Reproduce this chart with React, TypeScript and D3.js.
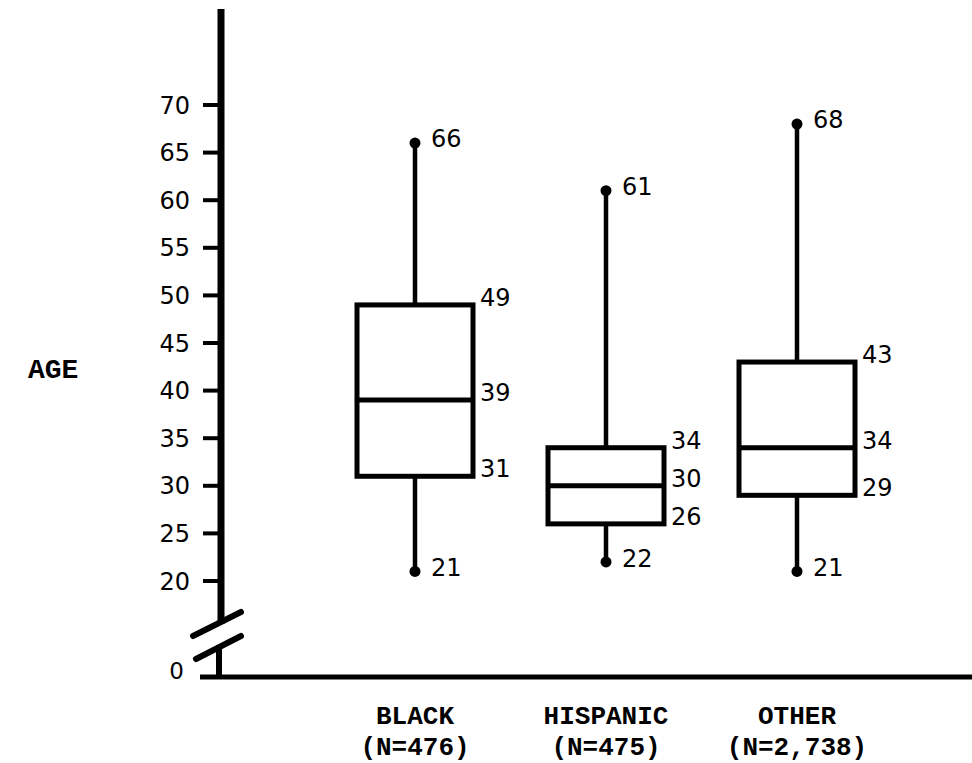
import React from 'react';
import * as d3 from 'd3';

const categories = ['BLACK', 'HISPANIC', 'OTHER'];
const sampleSizes = ['(N=476)', '(N=475)', '(N=2,738)'];
const minValues = [21, 22, 21];
const q1Values = [31, 26, 29];
const medianValues = [39, 30, 34];
const q3Values = [49, 34, 43];
const maxValues = [66, 61, 68];
const yTicks = [20, 25, 30, 35, 40, 45, 50, 55, 60, 65, 70];
const yAxisTitle = 'AGE';
const breakLabel = '0';

const W = 972;
const H = 763;
const AXIS_X = 221;
const X_AXIS_Y = 677;
const BOX_W = 116;
const numFont = '"DejaVu Sans", sans-serif';
const monoFont = '"Liberation Mono", "DejaVu Sans Mono", monospace';

export default function App() {
  const x = d3.scalePoint<string>().domain(categories).range([415, 797]);
  const y = d3.scaleLinear().domain([20, 70]).range([581, 105]);

  const data = categories.map((c, i) => ({
    cat: c,
    n: sampleSizes[i],
    min: minValues[i],
    q1: q1Values[i],
    med: medianValues[i],
    q3: q3Values[i],
    max: maxValues[i],
  }));

  return (
    <svg
      width={W}
      height={H}
      viewBox={`0 0 ${W} ${H}`}
      style={{ position: 'absolute', left: 0, top: 0, background: '#fff' }}
    >
      <rect x={0} y={0} width={W} height={H} fill="#fff" />
      {/* Y axis upper segment */}
      <line x1={AXIS_X} x2={AXIS_X} y1={9} y2={624} stroke="#000" strokeWidth={7} />
      {/* break slashes */}
      <line x1={193} y1={636} x2={241} y2={612} stroke="#000" strokeWidth={6} strokeLinecap="round" />
      <line x1={196} y1={659} x2={241} y2={636} stroke="#000" strokeWidth={6} strokeLinecap="round" />
      {/* lower segment */}
      <line x1={AXIS_X - 2} x2={AXIS_X - 2} y1={645} y2={X_AXIS_Y} stroke="#000" strokeWidth={6} />
      {/* X axis */}
      <line x1={200} x2={W} y1={X_AXIS_Y} y2={X_AXIS_Y} stroke="#000" strokeWidth={5} />
      <text x={184} y={X_AXIS_Y + 2} textAnchor="end" fontFamily={numFont} fontSize={23} fill="#000">
        {breakLabel}
      </text>

      {/* ticks */}
      {yTicks.map((t) => (
        <g key={t}>
          <line x1={203} x2={AXIS_X} y1={y(t)} y2={y(t)} stroke="#000" strokeWidth={4} />
          <text
            x={190}
            y={y(t)}
            dy="0.36em"
            textAnchor="end"
            fontFamily={numFont}
            fontSize={24}
            fill="#000"
          >
            {t}
          </text>
        </g>
      ))}

      <text x={28} y={378} fontFamily={monoFont} fontSize={28} fontWeight="bold" fill="#000">
        {yAxisTitle}
      </text>

      {/* boxes */}
      {data.map((d) => {
        const cx = x(d.cat) as number;
        const left = cx - BOX_W / 2;
        const right = cx + BOX_W / 2;
        return (
          <g key={d.cat}>
            <line x1={cx} x2={cx} y1={y(d.max)} y2={y(d.q3)} stroke="#000" strokeWidth={4.5} />
            <line x1={cx} x2={cx} y1={y(d.q1)} y2={y(d.min)} stroke="#000" strokeWidth={4.5} />
            <rect
              x={left}
              y={y(d.q3)}
              width={BOX_W}
              height={y(d.q1) - y(d.q3)}
              fill="none"
              stroke="#000"
              strokeWidth={5}
            />
            <line x1={left} x2={right} y1={y(d.med)} y2={y(d.med)} stroke="#000" strokeWidth={5} />
            <circle cx={cx} cy={y(d.max)} r={5.5} fill="#000" />
            <circle cx={cx} cy={y(d.min)} r={5.5} fill="#000" />
            {/* value labels */}
            <text x={cx + 16} y={y(d.max) + 4} fontFamily={numFont} fontSize={24} fill="#000">
              {d.max}
            </text>
            <text x={cx + 16} y={y(d.min) + 5} fontFamily={numFont} fontSize={24} fill="#000">
              {d.min}
            </text>
            {[d.q3, d.med, d.q1].map((v, k) => (
              <text key={k} x={right + 7} y={y(v) + 1} fontFamily={numFont} fontSize={24} fill="#000">
                {v}
              </text>
            ))}
            {/* category labels */}
            <text x={cx} y={724} textAnchor="middle" fontFamily={monoFont} fontSize={26} fontWeight="bold" fill="#000">
              {d.cat}
            </text>
            <text x={cx} y={755} textAnchor="middle" fontFamily={monoFont} fontSize={26} fontWeight="bold" fill="#000">
              {d.n}
            </text>
          </g>
        );
      })}
    </svg>
  );
}
